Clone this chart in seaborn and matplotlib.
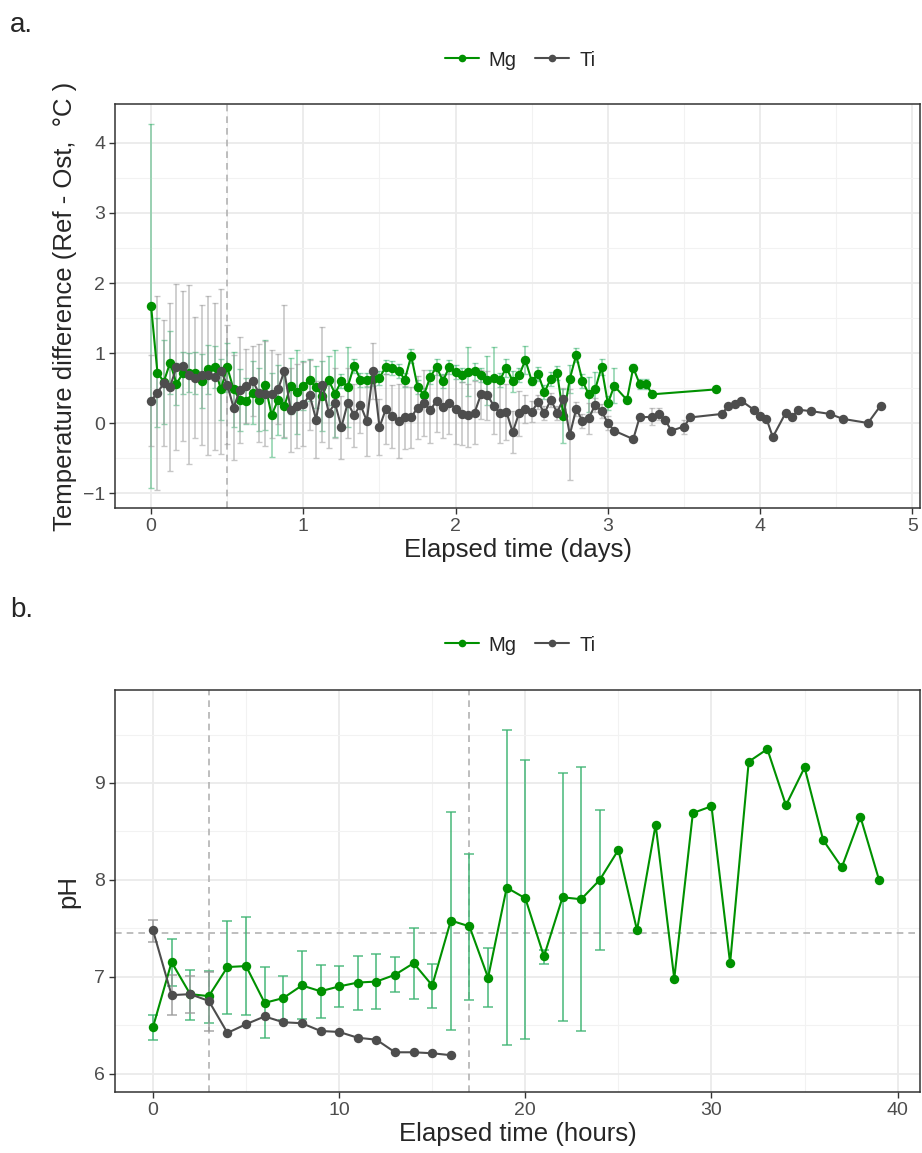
import numpy as np
import pandas as pd
import matplotlib
matplotlib.use("Agg")
import matplotlib.pyplot as plt
from matplotlib.lines import Line2D
import seaborn as sns

nan = np.nan

# ---------------- Panel a data (hours since start) ----------------
mg_hours_a = list(range(0, 74)) + [75, 76, 77, 78, 79, 89]
mg_temp = [1.67, 0.72, 0.59, 0.86, 0.56, 0.71, 0.72, 0.71, 0.60, 0.77,
           0.80, 0.48, 0.80, 0.48, 0.33, 0.31, 0.43, 0.33, 0.54, 0.11,
           0.33, 0.24, 0.53, 0.45, 0.53, 0.62, 0.51, 0.39, 0.61, 0.42,
           0.60, 0.52, 0.82, 0.62, 0.62, 0.63, 0.65, 0.80, 0.78, 0.75,
           0.62, 0.96, 0.52, 0.40, 0.66, 0.80, 0.60, 0.80, 0.73, 0.68,
           0.73, 0.74, 0.68, 0.61, 0.64, 0.62, 0.79, 0.60, 0.68, 0.90,
           0.60, 0.70, 0.44, 0.63, 0.71, 0.10, 0.63, 0.97, 0.60, 0.41,
           0.48, 0.80, 0.28, 0.53,
           0.33, 0.79, 0.56, 0.56, 0.41, 0.48]
mg_temp_sd = [2.60, 0.78, 0.60, 0.45, 0.30, 0.30, 0.28, 0.30, 0.38, 0.35,
              0.30, 0.43, 0.35, 0.53, 0.44, 0.33, 0.45, 0.45, 0.64, 0.60,
              0.50, 0.45, 0.40, 0.60, 0.35, 0.30, 0.30, 0.50, 0.35, 0.62,
              0.10, 0.57, 0.10, 0.10, 0.10, 0.10, 0.10, 0.10, 0.10, 0.10,
              0.10, 0.10, 0.10, 0.10, 0.10, 0.12, 0.10, 0.10, 0.10, 0.10,
              0.35, 0.12, 0.10, 0.35, 0.44, 0.10, 0.13, 0.15, 0.10, 0.20,
              0.05, 0.10, 0.10, 0.10, 0.10, 0.39, 0.20, 0.10, 0.10, 0.25,
              0.25, 0.12, 0.10, 0.25,
              0.05, 0.05, 0.07, 0.07, nan, nan]

ti_hours_a = list(range(0, 74)) + [76, 77, 79, 80, 81, 82, 84, 85, 90, 91, 92, 93,
                                   95, 96, 97, 98, 100, 101, 102, 104, 107, 109, 113, 115]
ti_temp = [0.32, 0.43, 0.57, 0.52, 0.80, 0.81, 0.69, 0.65, 0.69, 0.68,
           0.66, 0.74, 0.55, 0.22, 0.47, 0.53, 0.60, 0.43, 0.42, 0.42,
           0.48, 0.74, 0.19, 0.24, 0.27, 0.40, 0.05, 0.55, 0.15, 0.28,
           -0.06, 0.29, 0.11, 0.26, 0.03, 0.74, -0.06, 0.20, 0.10, 0.03,
           0.08, 0.08, 0.22, 0.29, 0.18, 0.32, 0.23, 0.29, 0.20, 0.13,
           0.11, 0.15, 0.41, 0.40, 0.25, 0.14, 0.16, -0.13, 0.14, 0.20,
           0.16, 0.30, 0.14, 0.33, 0.15, 0.35, -0.17, 0.20, 0.03, 0.07,
           0.26, 0.17, 0.00, -0.11,
           -0.23, 0.08, 0.09, 0.13, 0.05, -0.11, -0.05, 0.08, 0.13, 0.25, 0.27, 0.32,
           0.19, 0.10, 0.06, -0.20, 0.14, 0.08, 0.19, 0.17, 0.13, 0.06, 0.00, 0.25]
ti_temp_sd = [0.65, 1.39, 0.90, 1.20, 1.18, 1.07, 1.28, 0.87, 1.00, 1.13,
              1.05, 1.18, 0.85, 0.75, 0.76, 0.53, 0.50, 0.70, 0.75, 0.63,
              0.50, 0.94, 0.60, 0.60, 0.60, 0.50, 0.55, 0.82, 0.50, 0.50,
              0.45, 0.50, 0.45, 0.40, 0.50, 0.40, 0.40, 0.50, 0.45, 0.53,
              0.45, 0.44, 0.45, 0.47, 0.47, 0.45, 0.45, 0.45, 0.50, 0.45,
              0.45, 0.45, 0.35, 0.35, 0.40, 0.43, 0.40, 0.30, 0.32, 0.20,
              0.15, 0.10, 0.10, 0.10, 0.10, 0.15, 0.65, 0.10, 0.10, 0.22,
              0.10, 0.10, 0.10, nan,
              nan, nan, 0.12, 0.08, nan, nan, 0.10, nan, nan, nan, nan, nan,
              nan, nan, nan, nan, nan, nan, nan, nan, nan, nan, nan, nan]

# ---------------- Panel b data ----------------
mg_hours_b = list(range(0, 40))
mg_ph = [6.48, 7.15, 6.82, 6.80, 7.10, 7.11, 6.73, 6.78, 6.91, 6.85,
         6.90, 6.94, 6.95, 7.02, 7.14, 6.91, 7.58, 7.52, 6.99, 7.92,
         7.81, 7.21, 7.82, 7.80, 8.00, 8.31, 7.48, 8.57, 6.98, 8.69,
         8.76, 7.14, 9.22, 9.35, 8.77, 9.16, 8.41, 8.13, 8.65, 8.00]
mg_ph_hi = [6.61, 7.39, 7.07, 7.06, 7.58, 7.62, 7.10, 7.01, 7.27, 7.12,
            7.11, 7.21, 7.23, 7.20, 7.50, 7.13, 8.70, 8.27, 7.30, 9.55,
            9.24, 7.28, 9.10, 9.16, 8.72] + [nan] * 15
mg_ph_lo = [6.35, 6.90, 6.55, 6.52, 6.62, 6.60, 6.37, 6.55, 6.56, 6.57,
            6.69, 6.66, 6.67, 6.84, 6.77, 6.68, 6.45, 6.76, 6.69, 6.30,
            6.36, 7.13, 6.54, 6.44, 7.28] + [nan] * 15

ti_hours_b = list(range(0, 17))
ti_ph = [7.48, 6.81, 6.82, 6.75, 6.42, 6.51, 6.59, 6.53, 6.52, 6.44,
         6.43, 6.37, 6.35, 6.22, 6.22, 6.21, 6.19]
ti_ph_hi = [7.59, 7.02, 7.01, 7.05] + [nan] * 13
ti_ph_lo = [7.36, 6.60, 6.63, 6.44] + [nan] * 13

series = ["Mg", "Ti"]
line_colors = {"Mg": "#009100", "Ti": "#4D4D4D"}
bar_colors = {"Mg": "#3CB371", "Ti": "#9A9A9A"}

# ---------------- tables ----------------
dfa = pd.concat([
    pd.DataFrame({"t": np.array(mg_hours_a) / 24.0, "y": mg_temp, "sd": mg_temp_sd, "Metal": "Mg"}),
    pd.DataFrame({"t": np.array(ti_hours_a) / 24.0, "y": ti_temp, "sd": ti_temp_sd, "Metal": "Ti"}),
], ignore_index=True)
dfb = pd.concat([
    pd.DataFrame({"t": mg_hours_b, "y": mg_ph, "lo": mg_ph_lo, "hi": mg_ph_hi, "Metal": "Mg"}),
    pd.DataFrame({"t": ti_hours_b, "y": ti_ph, "lo": ti_ph_lo, "hi": ti_ph_hi, "Metal": "Ti"}),
], ignore_index=True)

sns.set_theme(style="white")
plt.rcParams["font.family"] = ["Liberation Sans", "DejaVu Sans"]

fig = plt.figure(figsize=(9.22, 11.53), dpi=100)
axa = fig.add_axes([115 / 922, 1 - 508 / 1153, 805 / 922, 404 / 1153])
axb = fig.add_axes([115 / 922, 1 - 1092 / 1153, 805 / 922, 402 / 1153])

TICK_FS = 14
TITLE_FS = 18.5


def style_axes(ax, xmaj, xmin, ymaj, ymin, xlim, ylim):
    ax.set_xlim(*xlim)
    ax.set_ylim(*ylim)
    ax.set_xticks(xmaj)
    ax.set_xticks(xmin, minor=True)
    ax.set_yticks(ymaj)
    ax.set_yticks(ymin, minor=True)
    ax.grid(True, which="major", color="#EBEBEB", lw=1.3, zorder=0)
    ax.grid(True, which="minor", color="#F2F2F2", lw=0.8, zorder=0)
    ax.set_axisbelow(True)
    for s in ax.spines.values():
        s.set_color("#333333")
        s.set_linewidth(1.1)
        s.set_visible(True)
    ax.tick_params(axis="both", which="major", length=4, width=1.0, color="#333333",
                   labelsize=TICK_FS, labelcolor="#4D4D4D", direction="out", pad=3,
                   bottom=True, left=True)
    ax.tick_params(axis="both", which="minor", length=0)


# ---------------- Panel a ----------------
for m in series:
    d = dfa[dfa.Metal == m]
    axa.errorbar(d.t, d.y, yerr=d.sd, fmt="none", ecolor=bar_colors[m], alpha=0.55,
                 elinewidth=1.2, capsize=2.2, capthick=1.0, zorder=2)
sns.lineplot(data=dfa, x="t", y="y", hue="Metal", hue_order=series, palette=line_colors,
             marker="o", markersize=6.8, markeredgewidth=0, linewidth=1.5,
             estimator=None, sort=True, legend=False, ax=axa, zorder=3)
axa.axvline(0.5, color="#B3B3B3", ls=(0, (4, 3)), lw=1.2, zorder=1)
style_axes(axa, [0, 1, 2, 3, 4, 5], [0.5, 1.5, 2.5, 3.5, 4.5],
           [-1, 0, 1, 2, 3, 4], [-0.5, 0.5, 1.5, 2.5, 3.5],
           (-0.237, 5.05), (-1.214, 4.557))
axa.set_xlabel("Elapsed time (days)", fontsize=TITLE_FS, labelpad=2)
axa.set_ylabel("Temperature difference (Ref - Ost,  \u00b0C )", fontsize=TITLE_FS, labelpad=4)

# ---------------- Panel b ----------------
for m in series:
    d = dfb[(dfb.Metal == m) & dfb.lo.notna()]
    axb.errorbar(d.t, d.y, yerr=[d.y - d.lo, d.hi - d.y], fmt="none", ecolor=bar_colors[m],
                 alpha=0.8, elinewidth=1.3, capsize=3.5, capthick=1.2, zorder=2)
sns.lineplot(data=dfb, x="t", y="y", hue="Metal", hue_order=series, palette=line_colors,
             marker="o", markersize=6.8, markeredgewidth=0, linewidth=1.5,
             estimator=None, sort=True, legend=False, ax=axb, zorder=3)
axb.axvline(3, color="#B3B3B3", ls=(0, (4, 3)), lw=1.2, zorder=1)
axb.axvline(17, color="#B3B3B3", ls=(0, (4, 3)), lw=1.2, zorder=1)
axb.axhline(7.45, color="#B3B3B3", ls=(0, (4, 3)), lw=1.2, zorder=1)
style_axes(axb, [0, 10, 20, 30, 40], [5, 15, 25, 35],
           [6, 7, 8, 9], [6.5, 7.5, 8.5, 9.5],
           (-2.04, 41.2), (5.81, 9.96))
axb.set_xlabel("Elapsed time (hours)", fontsize=TITLE_FS, labelpad=2)
axb.set_ylabel("pH", fontsize=TITLE_FS, labelpad=10)

# ---------------- legends and panel labels ----------------
handles = [Line2D([0], [0], color=line_colors[m], marker="o", markersize=5.5, lw=1.5,
                  markeredgewidth=0) for m in series]
for ax, ypix in [(axa, 60), (axb, 645)]:
    fig.legend(handles, series, loc="center", bbox_to_anchor=(520 / 922, 1 - ypix / 1153),
               ncol=2, frameon=False, fontsize=14.5, handlelength=1.7, handletextpad=0.5,
               columnspacing=0.9)

fig.text(10 / 922, 1 - 25 / 1153, "a.", fontsize=20, va="center", ha="left")
fig.text(10 / 922, 1 - 610 / 1153, "b.", fontsize=20, va="center", ha="left")

fig.savefig("out.png", dpi=100, facecolor="white")
